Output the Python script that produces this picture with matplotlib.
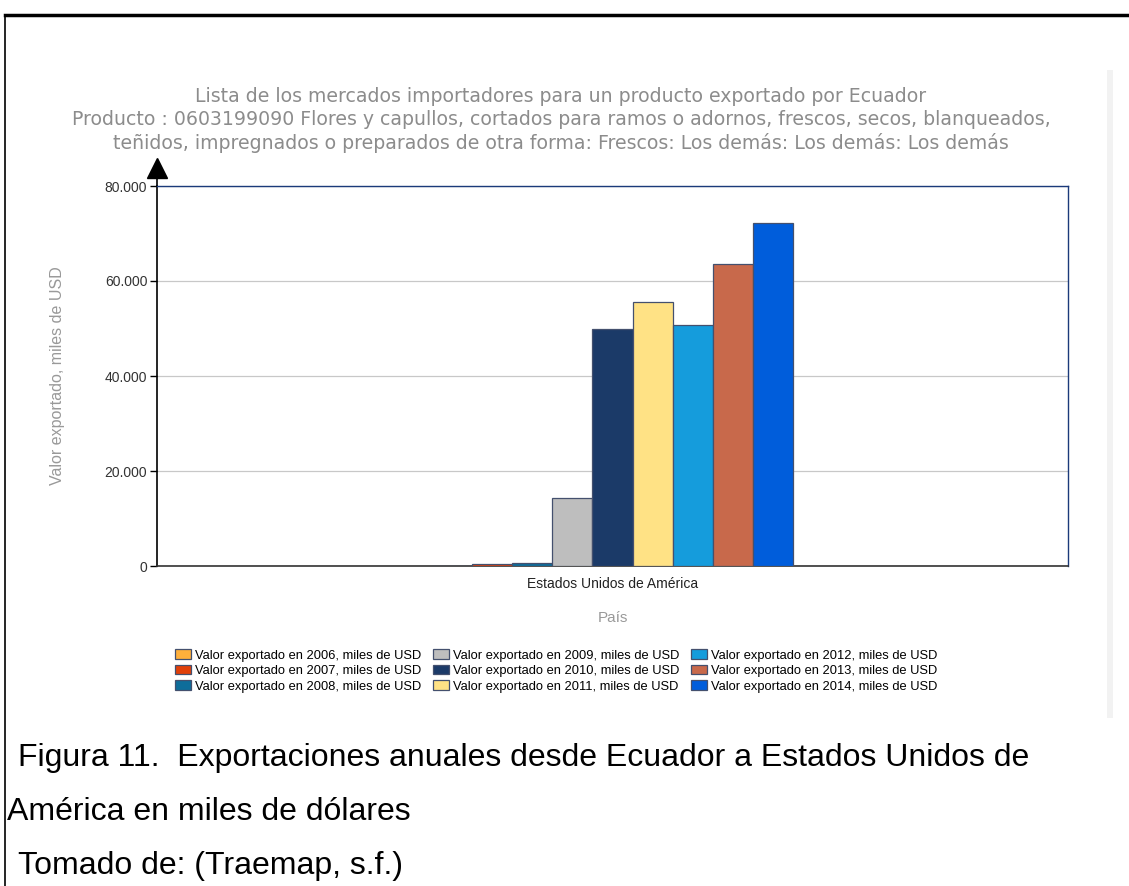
import matplotlib.pyplot as plt
from matplotlib.lines import Line2D
from matplotlib.patches import Rectangle
from matplotlib.ticker import FuncFormatter

# data (miles de USD)
years = ["2006", "2007", "2008", "2009", "2010", "2011", "2012", "2013", "2014"]
values = [0, 400, 550, 14300, 49900, 55600, 50700, 63600, 72200]
colors = ["#FFB03B", "#E0400A", "#0E6D9A", "#BEBEBE", "#1B3A68",
          "#FFE285", "#159CDC", "#C8694B", "#005DDB"]
country = "Estados Unidos de América"
yticks = [0, 20000, 40000, 60000, 80000]

W, H = 1129, 886
fig = plt.figure(figsize=(W / 100, H / 100), dpi=100)
fig.patch.set_facecolor("white")


def px(x, y):
    return x / W, 1 - y / H


# page frame lines
fig.add_artist(Line2D([5 / W, 1], [1 - 15 / H, 1 - 15 / H], color="black", lw=2.5))
fig.add_artist(Line2D([5 / W, 5 / W], [0, 1 - 15 / H], color="black", lw=1.2))
# light scroll strip on the right
fig.add_artist(Rectangle(px(1107, 718), 6 / W, 648 / H, color="#F2F2F2", lw=0))

l, b = px(157, 566)
ax = fig.add_axes([l, b, (1068 - 157) / W, (566 - 186) / H])

n = len(years)
group = 0.397
bw = group / n
for i, (yr, v, c) in enumerate(zip(years, values, colors)):
    xpos = -group / 2 + bw * (i + 0.5)
    ax.bar(xpos, v, width=bw, color=c, edgecolor="#44506E", linewidth=0.9,
           label="Valor exportado en %s, miles de USD" % yr, zorder=3)

ax.set_xlim(-0.5, 0.5)
ax.set_ylim(0, 80000)
ax.set_yticks(yticks)
ax.yaxis.set_major_formatter(FuncFormatter(lambda v, p: "{:,}".format(int(v)).replace(",", ".")))
ax.set_xticks([0])
ax.set_xticklabels([country], fontsize=10, color="#222222", family="Liberation Sans")
ax.tick_params(axis="x", length=0, pad=8)
ax.tick_params(axis="y", length=5, width=1, color="black", labelsize=10,
               labelcolor="#333333", direction="out", pad=2)
for t in ax.get_yticklabels():
    t.set_family("Liberation Sans")
ax.grid(axis="y", color="#C8C8C8", lw=0.9, zorder=0)

for s in ["top", "right"]:
    ax.spines[s].set_color("#1B3A7A")
    ax.spines[s].set_linewidth(1)
ax.spines["bottom"].set_color("#333333")
ax.spines["bottom"].set_linewidth(1.2)
ax.spines["left"].set_color("black")
ax.spines["left"].set_linewidth(1.2)

# arrow at the top of the value axis
ax.plot([0, 0], [1, 1.03], transform=ax.transAxes, color="black", lw=1.2, clip_on=False)
ax.plot([0], [1.047], transform=ax.transAxes, marker="^", markersize=15,
        color="black", clip_on=False)

ax.set_ylabel("Valor exportado, miles de USD", color="#999999", fontsize=11.5,
              family="Liberation Sans")
ax.yaxis.set_label_coords(-0.101, 0.5)
ax.set_xlabel("País", color="#999999", fontsize=11, family="Liberation Sans", labelpad=14)

title = ("Lista de los mercados importadores para un producto exportado por Ecuador\n"
         "Producto : 0603199090 Flores y capullos, cortados para ramos o adornos, frescos, secos, blanqueados,\n"
         "teñidos, impregnados o preparados de otra forma: Frescos: Los demás: Los demás: Los demás")
fig.text(561 / W, 1 - 120 / H, title, ha="center", va="center", color="#8C8C8C",
         fontsize=13.6, linespacing=1.25, family="DejaVu Sans")

fig.legend(loc="center", bbox_to_anchor=(px(556, 671)), ncol=3, frameon=False,
           prop={"family": "Liberation Sans", "size": 9.3}, handlelength=1.25,
           handleheight=0.75, handletextpad=0.3, columnspacing=0.9,
           labelspacing=0.25)

cap = dict(family="Liberation Sans", fontsize=23, color="black", va="center")
fig.text(*px(18, 758), "Figura 11.  Exportaciones anuales desde Ecuador a Estados Unidos de", **cap)
fig.text(*px(7, 812), "América en miles de dólares", **cap)
fig.text(*px(18, 866), "Tomado de: (Traemap, s.f.)", **cap)

fig.savefig("out.png", dpi=100)
